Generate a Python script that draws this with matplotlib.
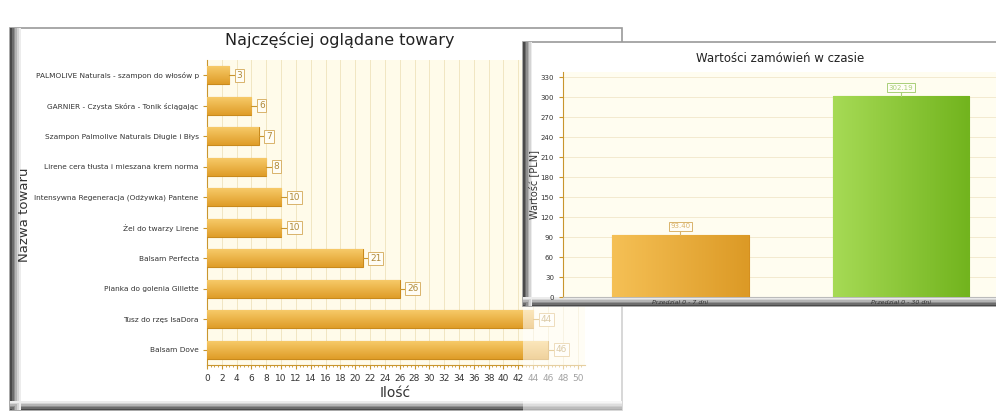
import matplotlib.pyplot as plt
from matplotlib.patches import Rectangle
from matplotlib.colors import LinearSegmentedColormap
import numpy as np

# --- data ---
products = [
    "PALMOLIVE Naturals - szampon do włosów p",
    "GARNIER - Czysta Skóra - Tonik ściągając",
    "Szampon Palmolive Naturals Długie i Błys",
    "Lirene cera tłusta i mieszana krem norma",
    "Intensywna Regeneracja (Odżywka) Pantene",
    "Żel do twarzy Lirene",
    "Balsam Perfecta",
    "Pianka do golenia Gillette",
    "Tusz do rzęs IsaDora",
    "Balsam Dove",
]
views = [3, 6, 7, 8, 10, 10, 21, 26, 44, 46]

periods = ["Przedział 0 - 7 dni", "Przedział 0 - 30 dni"]
order_values = [93.40, 302.19]

W, H = 996, 417


def fx(x):
    return x / W


def fy(y):
    return 1 - y / H


def panel(fig, x0, y0, x1, y1, z, step=1.6):
    # white card with a grey bevel on the left and bottom
    fig.add_artist(Rectangle((fx(x0), fy(y1)), fx(x1 - x0), (y1 - y0) / H,
                             transform=fig.transFigure, facecolor="white",
                             edgecolor="#9a9a9a", lw=1.2, zorder=z))
    shades = ["#4a4a4a", "#6d6d6d", "#909090", "#b4b4b4", "#d4d4d4", "#ececec"]
    for i, c in enumerate(shades):
        fig.add_artist(Rectangle((fx(x0 + i * step), fy(y1)), fx(step + 0.2), (y1 - y0) / H,
                                 transform=fig.transFigure, facecolor=c,
                                 edgecolor="none", zorder=z))
        fig.add_artist(Rectangle((fx(x0), fy(y1 - i * 1.4)), fx(x1 - x0), 1.6 / H,
                                 transform=fig.transFigure, facecolor=c,
                                 edgecolor="none", zorder=z))


def shade_bars(ax, bars, colors, vertical):
    # paint each bar with a light-to-dark gradient, clipped to the bar itself
    for b, (c1, c2) in zip(bars, colors):
        cmap = LinearSegmentedColormap.from_list("g", [c1, c2])
        bb = b.get_bbox()
        grad = np.linspace(0, 1, 64)
        img = grad[None, :] if vertical else grad[:, None]
        im = ax.imshow(img, cmap=cmap, aspect="auto", zorder=3.5,
                       extent=(bb.x0, bb.x1, bb.y1, bb.y0) if not vertical else
                       (bb.x0, bb.x1, bb.y0, bb.y1), origin="upper")
        im.set_clip_path(b)


fig = plt.figure(figsize=(9.96, 4.17), dpi=100)
fig.patch.set_facecolor("white")

gold = "#c9962e"
label_col = "#b08a3a"

# ---------------- left chart ----------------
panel(fig, 10, 28, 622, 410, -2, step=1.8)

ax1 = fig.add_axes([fx(207), fy(365), fx(585 - 207), (365 - 60) / H])
ax1.set_zorder(0)
ax1.set_facecolor("#fffbea")
y = np.arange(len(products))
bars1 = ax1.barh(y, views, height=0.6, color="#efb23f", edgecolor="#c98a1c", lw=0.8, zorder=3)
shade_bars(ax1, bars1, [("#f8cc6c", "#df9d28")] * len(views), vertical=False)
for yi, v in zip(y, views):
    ax1.plot([v, v + 0.9], [yi, yi], color=gold, lw=0.8, zorder=4)
    ax1.text(v + 1.0, yi, str(v), fontsize=6.5, color=label_col, va="center", ha="left",
             zorder=5, bbox=dict(boxstyle="square,pad=0.2", fc="#fffdf5", ec="#d9b36a", lw=0.7))
ax1.set_ylim(len(products) - 0.5, -0.5)
ax1.set_xlim(0, 51)
ax1.set_xticks(range(0, 51, 2))
ax1.set_xticks(np.arange(0, 51, 0.5), minor=True)
ax1.set_yticks(y)
ax1.set_yticklabels(products, fontsize=5.3, color="#333333")
ax1.tick_params(axis="x", labelsize=6.5, labelcolor="#333333", color=gold, length=3)
ax1.tick_params(axis="x", which="minor", color=gold, length=1.5)
ax1.tick_params(axis="y", color=gold, length=3, pad=3)
ax1.grid(axis="x", color="#f1e6c2", lw=0.7, zorder=0)
for s in ["top", "right"]:
    ax1.spines[s].set_visible(False)
ax1.spines["left"].set_color(gold)
ax1.spines["bottom"].set_color(gold)
ax1.set_axisbelow(True)
fig.text(fx(340), fy(40), "Najczęściej oglądane towary", fontsize=11.5, color="#222222",
         ha="center", va="center")
fig.text(fx(24), fy(215), "Nazwa towaru", fontsize=9.5, color="#333333", rotation=90,
         ha="center", va="center")
fig.text(fx(395), fy(393), "Ilość", fontsize=10, color="#333333", ha="center", va="center")

# ---------------- right chart ----------------
panel(fig, 523, 42, 1010, 306, 2, step=1.5)
# faded reflection under the right card
fig.add_artist(Rectangle((fx(523), 0), fx(W - 523), fy(306), transform=fig.transFigure,
                         facecolor="white", alpha=0.55, edgecolor="none", zorder=1.5))

ax2 = fig.add_axes([fx(563), fy(297), fx(996 - 563), (297 - 72) / H])
ax2.set_zorder(3)
ax2.set_facecolor("#fffdf0")
x = np.arange(len(periods))
bars2 = ax2.bar(x, order_values, width=0.62, color=["#e9a93a", "#8cc83a"],
                edgecolor=["#d59020", "#6eaa1c"], lw=0.8, zorder=3)
shade_bars(ax2, bars2, [("#f5c055", "#dc9a26"), ("#a6da55", "#72b41e")], vertical=True)
for xi, v, c in zip(x, order_values, ["#d9b36a", "#a9cf78"]):
    ax2.plot([xi, xi], [v, v + 6], color=c, lw=0.8, zorder=4)
    ax2.text(xi, v + 8, f"{v:.2f}", fontsize=5, color=c, ha="center", va="bottom", zorder=5,
             bbox=dict(boxstyle="square,pad=0.2", fc="#fffdf5", ec=c, lw=0.7))
ax2.set_xlim(-0.53, 1.43)
ax2.set_ylim(0, 338)
ax2.set_yticks(range(0, 331, 30))
ax2.set_xticks(x)
ax2.set_xticklabels(periods, fontsize=4.5, color="#333333", style="italic")
ax2.tick_params(axis="y", labelsize=5, labelcolor="#333333", color=gold, length=3)
ax2.tick_params(axis="x", length=0, pad=2)
ax2.grid(axis="y", color="#f3ead0", lw=0.7, zorder=0)
for s in ["top", "right"]:
    ax2.spines[s].set_visible(False)
ax2.spines["left"].set_color(gold)
ax2.spines["left"].set_linestyle((0, (2, 1)))
ax2.spines["bottom"].set_color("#bbbbbb")
ax2.set_axisbelow(True)
ax2.set_ylabel("Wartość [PLN]", fontsize=7, color="#333333", labelpad=1)
fig.text(fx(780), fy(58), "Wartości zamówień w czasie", fontsize=8.5, color="#222222",
         ha="center", va="center", zorder=4)

fig.savefig("out.png", dpi=100)
